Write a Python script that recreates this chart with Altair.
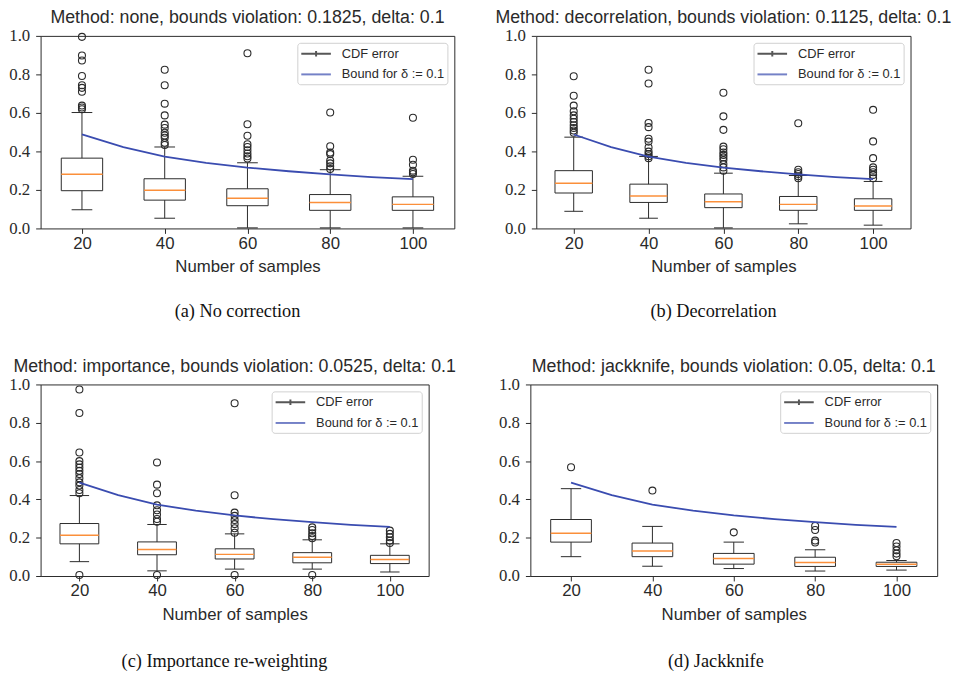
import altair as alt
import pandas as pd

ns = [20, 40, 60, 80, 100]
titles = [
    "Method: none, bounds violation: 0.1825, delta: 0.1",
    "Method: decorrelation, bounds violation: 0.1125, delta: 0.1",
    "Method: importance, bounds violation: 0.0525, delta: 0.1",
    "Method: jackknife, bounds violation: 0.05, delta: 0.1",
]
captions = ["(a) No correction", "(b) Decorrelation",
            "(c) Importance re-weighting", "(d) Jackknife"]
legend_labels = ["CDF error", "Bound for δ := 0.1"]
y_ticks = [0.0, 0.2, 0.4, 0.6, 0.8, 1.0]

# bound curve (same in every panel)
bound_n = [20, 30, 40, 50, 60, 70, 80, 90, 100]
bound_v = [0.488, 0.422, 0.373, 0.341, 0.316, 0.297, 0.281, 0.267, 0.256]

# (a) none
a_lo = [0.097, 0.053, 0.003, 0.003, 0.003]
a_q1 = [0.196, 0.147, 0.118, 0.094, 0.094]
a_med = [0.282, 0.198, 0.157, 0.135, 0.125]
a_q3 = [0.365, 0.258, 0.206, 0.176, 0.164]
a_hi = [0.602, 0.423, 0.341, 0.305, 0.271]
a_out = [
    [0.995, 0.898, 0.872, 0.792, 0.744, 0.730, 0.710, 0.638, 0.628, 0.619],
    [0.824, 0.744, 0.648, 0.587, 0.539, 0.522, 0.497, 0.483, 0.471, 0.445, 0.433],
    [0.910, 0.541, 0.481, 0.437, 0.423, 0.406, 0.389, 0.375, 0.363],
    [0.602, 0.427, 0.394, 0.386, 0.352, 0.338, 0.323, 0.309],
    [0.575, 0.357, 0.331, 0.300, 0.292, 0.283],
]
# (b) decorrelation
b_lo = [0.089, 0.053, 0.003, 0.024, 0.017]
b_q1 = [0.184, 0.135, 0.108, 0.094, 0.094]
b_med = [0.235, 0.169, 0.138, 0.125, 0.116]
b_q3 = [0.300, 0.230, 0.179, 0.166, 0.154]
b_hi = [0.474, 0.374, 0.287, 0.275, 0.244]
b_out = [
    [0.790, 0.689, 0.638, 0.608, 0.587, 0.570, 0.553, 0.536, 0.522, 0.509, 0.497],
    [0.824, 0.753, 0.548, 0.526, 0.466, 0.451, 0.420, 0.399, 0.386, 0.375, 0.365],
    [0.705, 0.582, 0.512, 0.425, 0.411, 0.394, 0.382, 0.369, 0.355, 0.334, 0.317, 0.300],
    [0.546, 0.305, 0.292, 0.283, 0.271, 0.261],
    [0.616, 0.452, 0.365, 0.317, 0.305, 0.292, 0.278, 0.261],
]
# (c) importance
c_lo = [0.075, 0.027, 0.036, 0.036, 0.021]
c_q1 = [0.168, 0.111, 0.089, 0.069, 0.065]
c_med = [0.213, 0.139, 0.113, 0.098, 0.086]
c_q3 = [0.274, 0.178, 0.142, 0.122, 0.108]
c_hi = [0.420, 0.269, 0.220, 0.189, 0.168]
c_out = [
    [0.974, 0.851, 0.645, 0.600, 0.583, 0.566, 0.549, 0.532, 0.511, 0.489, 0.472, 0.449, 0.432, 0.005],
    [0.593, 0.477, 0.432, 0.369, 0.343, 0.321, 0.298, 0.283, 0.005],
    [0.902, 0.422, 0.331, 0.314, 0.292, 0.271, 0.249, 0.226, 0.005],
    [0.254, 0.240, 0.223, 0.209, 0.197, 0.005],
    [0.237, 0.220, 0.202, 0.185, 0.172],
]
# (d) jackknife
d_lo = [0.101, 0.051, 0.039, 0.026, 0.031]
d_q1 = [0.177, 0.101, 0.062, 0.050, 0.050]
d_med = [0.223, 0.130, 0.091, 0.070, 0.062]
d_q3 = [0.295, 0.172, 0.118, 0.098, 0.072]
d_hi = [0.456, 0.259, 0.177, 0.137, 0.081]
d_out = [
    [0.568],
    [0.446],
    [0.228],
    [0.261, 0.240, 0.185, 0.175],
    [0.172, 0.154, 0.134, 0.117, 0.103],
]

DARK = "#2a2a2a"
ORANGE = "#fb8f3a"
BLUE = "#3a4cb0"
SANS = "Liberation Sans"
SERIF = "Liberation Serif"

X_SCALE = alt.Scale(domain=[10, 110], nice=False, zero=False)
Y_SCALE = alt.Scale(domain=[0, 1], nice=False, zero=False)


def make_panel(lo, q1, med, q3, hi, out, title, caption, w, h, cap_dx, t_off, c_off):
    box = pd.DataFrame({"n": ns, "lo": lo, "q1": q1, "med": med, "q3": q3, "hi": hi})
    fl = pd.DataFrame([{"n": n, "v": v} for n, vals in zip(ns, out) for v in vals])
    bnd = pd.DataFrame({"n": bound_n, "v": bound_v})
    leg = pd.DataFrame({"series": legend_labels, "n": [20, 20], "v": [0.0, 0.0]})

    xax = alt.Axis(values=ns, title="Number of samples", labelFont=SANS, labelFontSize=17,
                   titleFont=SANS, titleFontSize=17, titleFontWeight="normal",
                   labelColor=DARK, titleColor=DARK, domain=False, grid=False,
                   tickSize=5, tickColor=DARK, labelPadding=2, titlePadding=8)
    yax = alt.Axis(values=y_ticks, format=".1f", title=None,
                   labelFont=SERIF, labelFontSize=17, labelColor=DARK, domain=False,
                   grid=False, tickSize=5, tickColor=DARK, labelPadding=6,
                   labelOverlap=False, labelFlush=False, labelBound=False,
                   minExtent=32)

    def X(f):
        return alt.X(f, type="quantitative", scale=X_SCALE, axis=xax)

    def Y(f):
        return alt.Y(f, type="quantitative", scale=Y_SCALE, axis=yax)

    base = alt.Chart(box).transform_calculate(
        bl="datum.n - 5", br="datum.n + 5", cl="datum.n - 2.5", cr="datum.n + 2.5")

    whisk_lo = base.mark_rule(color=DARK, strokeWidth=1).encode(
        x=X("n"), y=Y("lo"), y2="q1:Q")
    whisk_hi = base.mark_rule(color=DARK, strokeWidth=1).encode(
        x=X("n"), y=Y("q3"), y2="hi:Q")
    cap_lo = base.mark_rule(color=DARK, strokeWidth=1).encode(
        x=X("cl"), x2="cr:Q", y=Y("lo"))
    cap_hi = base.mark_rule(color=DARK, strokeWidth=1).encode(
        x=X("cl"), x2="cr:Q", y=Y("hi"))
    rect = base.mark_rect(fill="white", fillOpacity=0, stroke=DARK, strokeWidth=1).encode(
        x=X("bl"), x2="br:Q", y=Y("q1"), y2="q3:Q")
    median = base.mark_rule(color=ORANGE, strokeWidth=1.5).encode(
        x=X("bl"), x2="br:Q", y=Y("med"))
    fliers = alt.Chart(fl).mark_point(shape="circle", filled=False, size=50,
                                      color=DARK, strokeWidth=1.1, opacity=1).encode(
        x=X("n"), y=Y("v"))
    bound = alt.Chart(bnd).mark_line(color=BLUE, strokeWidth=1.8).encode(
        x=X("n"), y=Y("v"))

    lg = alt.Legend(title=None, orient="top-right", offset=7, padding=3,
                    strokeColor="#d0d0d0", fillColor="white", cornerRadius=3,
                    labelFont=SANS, labelFontSize=13, labelColor=DARK,
                    symbolSize=196, symbolStrokeWidth=2, symbolOffset=8,
                    rowPadding=6, labelOffset=18)
    legend_layer = alt.Chart(leg).transform_filter("false").mark_point(
        filled=False, strokeWidth=2).encode(
        x=X("n"), y=Y("v"),
        color=alt.Color("series:N", scale=alt.Scale(domain=legend_labels, range=["#111111", BLUE]), legend=lg),
        shape=alt.Shape("series:N", scale=alt.Scale(domain=legend_labels,
                        range=["M-2.14,0L2.14,0M0,-0.4L0,0.4", "M-2.14,0L2.14,0"]), legend=lg),
    )

    layer = alt.layer(whisk_lo, whisk_hi, cap_lo, cap_hi, rect, median, fliers, bound,
                      legend_layer).properties(
        width=w, height=h,
        title=alt.TitleParams(title, font=SANS, fontSize=18, fontWeight="normal",
                              color=DARK, frame="group", anchor="middle", offset=t_off))
    return alt.vconcat(layer, title=alt.TitleParams(
        caption, orient="bottom", font=SERIF, fontSize=18.5, fontWeight="normal",
        color="#111", anchor="middle", offset=c_off, dx=cap_dx)).resolve_scale(
        color="independent", shape="independent").resolve_legend(
        color="independent", shape="independent")


pa = make_panel(a_lo, a_q1, a_med, a_q3, a_hi, a_out, titles[0], captions[0], 419, 195, 6, 0, 27)
pb = make_panel(b_lo, b_q1, b_med, b_q3, b_hi, b_out, titles[1], captions[1], 379, 195, -10, 0, 27)
pc = make_panel(c_lo, c_q1, c_med, c_q3, c_hi, c_out, titles[2], captions[2], 393, 194, -8, 0, 30)
pd_ = make_panel(d_lo, d_q1, d_med, d_q3, d_hi, d_out, titles[3], captions[3], 412, 194, -2, 0, 30)

row1 = alt.hconcat(pa, pb, spacing=40).resolve_scale(
    color="independent", shape="independent").resolve_legend(color="independent", shape="independent")
row2 = alt.hconcat(pc, pd_, spacing=41).resolve_scale(
    color="independent", shape="independent").resolve_legend(color="independent", shape="independent")

chart = alt.vconcat(row1, row2, spacing=37).resolve_scale(
    color="independent", shape="independent").resolve_legend(
    color="independent", shape="independent").properties(
    padding={"left": 0, "top": -4, "right": 0, "bottom": 0},
    background="white").configure_view(stroke=DARK, strokeWidth=1).configure_axis(
    labelOverlap=False)

chart.save("out.html", embed_options={"renderer": "svg", "actions": False})
